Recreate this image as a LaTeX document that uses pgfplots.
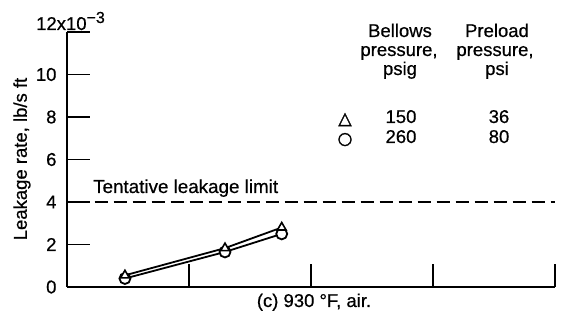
\documentclass[border=0pt]{standalone}
\usepackage{pgfplots}
\pgfplotsset{compat=1.18}
\usepackage{fontspec}
\setmainfont{Liberation Sans}[FakeBold=0.6]
\newfontfamily\symfont{DejaVu Sans}[FakeBold=2]
\begin{document}
\begin{tikzpicture}[x=1pt,y=1pt]
\path[use as bounding box] (0,0) rectangle (561,320);
\begin{axis}[
  at={(67pt,33pt)}, anchor=south west,
  scale only axis, width=488pt, height=255pt,
  xmin=0, xmax=4, ymin=0, ymax=12,
  axis x line=bottom, axis y line=left,
  axis line style={-, line width=1.8pt},
  tick align=inside,
  major tick length=23pt,
  tick style={line width=1.6pt, black},
  xtick={1,2,3,4}, xticklabels={},
  ytick={0,2,4,6,8,10,12},
  yticklabels={0,2,4,6,8,10,{}},
  /pgf/number format/assume math mode=true,
  ticklabel style={font=\fontsize{18.5}{20}\selectfont},
  yticklabel style={xshift=-7pt},
  clip=false,
]
\addplot[line width=1.8pt, dash pattern=on 13pt off 6pt] coordinates {(0.07,4) (4,4)};
\addplot[line width=1.8pt, mark=*, mark size=5.5pt, mark options={solid, fill=white, line width=1.8pt}]
  coordinates {(0.475,0.4) (1.295,1.65) (1.76,2.5)};
\addplot[line width=1.8pt, mark=triangle*, mark size=5pt, mark options={solid, fill=white, line width=1.6pt}]
  coordinates {(0.475,0.55) (1.295,1.83) (1.76,2.8)};
\end{axis}
\node[anchor=base west, inner sep=0pt, font=\fontsize{18.5}{20}\selectfont] at (36,290) {12x10\raisebox{7pt}{\fontsize{16}{16}\selectfont −3}};
\node[rotate=90, inner sep=0pt, font=\fontsize{18.5}{20}\selectfont] at (22,161) {Leakage rate, lb/s ft};
\node[anchor=base west, inner sep=0pt, font=\fontsize{18.8}{20}\selectfont] at (93,127) {Tentative leakage limit};
\node[anchor=base, inner sep=0pt, font=\fontsize{18.5}{20}\selectfont] at (314,13) {(c) 930 °F, air.};
\begin{scope}[every node/.style={anchor=base, inner sep=0pt, font=\fontsize{18.5}{20}\selectfont}]
\node at (400,283) {Bellows};
\node at (399,264) {pressure,};
\node at (400,245) {psig};
\node at (497,283) {Preload};
\node at (495,264) {pressure,};
\node at (497,245) {psi};
\node at (401,197) {150};
\node at (499,197) {36};
\node at (401,177) {260};
\node at (499,177) {80};
\node[font=\symfont\fontsize{17}{19}\selectfont] at (345,196) {△};
\node[font=\symfont\fontsize{17}{19}\selectfont] at (345,176) {○};
\end{scope}
\end{tikzpicture}
\end{document}
